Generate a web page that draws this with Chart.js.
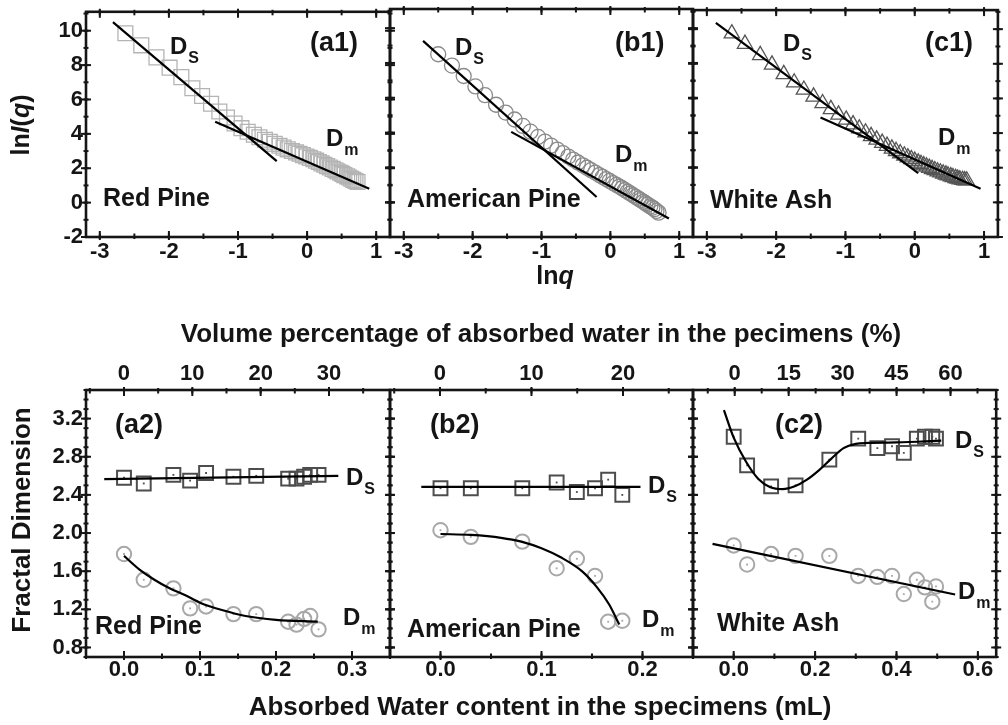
<!DOCTYPE html>
<html>
<head>
<meta charset="utf-8">
<script src="https://cdn.jsdelivr.net/npm/chart.js@4.4.1/dist/chart.umd.min.js"></script>
<style>
  html, body { margin: 0; padding: 0; background: #fff; }
  #wrap { position: relative; width: 1008px; height: 725px; }
  canvas { position: absolute; left: 0; top: 0; }
</style>
</head>
<body>
<div id="wrap">
  <canvas id="a1" width="1008" height="725"></canvas>
  <canvas id="b1" width="1008" height="725"></canvas>
  <canvas id="c1" width="1008" height="725"></canvas>
  <canvas id="a2" width="1008" height="725"></canvas>
  <canvas id="b2" width="1008" height="725"></canvas>
  <canvas id="c2" width="1008" height="725"></canvas>
</div>
<script>
// ---- top row: lnI(q) against lnq ----
const lnqRed = [-2.63,-2.40,-2.18,-1.99,-1.82,-1.66,-1.52,-1.39,-1.27,-1.16,-1.05,-0.95,-0.86,-0.77,-0.69,-0.61,-0.54,-0.47,-0.40,-0.34,-0.28,-0.22,-0.16,-0.11,-0.06,-0.01,0.04,0.09,0.13,0.17,0.21,0.25,0.29,0.33,0.37,0.41,0.44,0.48,0.51,0.54,0.58,0.61,0.64,0.67,0.70,0.73];
const lnIRed = [9.85,9.15,8.45,7.85,7.3,6.65,6.2,5.75,5.3,4.95,4.6,4.33,4.12,3.95,3.8,3.66,3.54,3.42,3.31,3.2,3.1,3.0,2.92,2.84,2.76,2.68,2.6,2.52,2.44,2.36,2.28,2.2,2.12,2.04,1.96,1.88,1.81,1.74,1.67,1.6,1.53,1.46,1.39,1.32,1.26,1.2];

const lnqAm = [-2.50,-2.30,-2.13,-1.96,-1.82,-1.66,-1.52,-1.39,-1.27,-1.16,-1.05,-0.95,-0.86,-0.77,-0.69,-0.61,-0.54,-0.47,-0.40,-0.34,-0.28,-0.22,-0.16,-0.11,-0.06,-0.01,0.04,0.09,0.13,0.17,0.21,0.25,0.29,0.33,0.37,0.41,0.44,0.48,0.51,0.54,0.58,0.61,0.64,0.67,0.70];
const lnIAm = [8.5,7.85,7.25,6.65,6.15,5.6,5.15,4.75,4.38,4.05,3.75,3.48,3.25,3.02,2.82,2.62,2.45,2.28,2.12,1.98,1.84,1.7,1.56,1.45,1.33,1.22,1.1,0.99,0.9,0.8,0.7,0.6,0.5,0.4,0.3,0.2,0.12,0.02,-0.06,-0.14,-0.24,-0.32,-0.4,-0.5,-0.6];

const lnqAsh = [-2.64,-2.45,-2.23,-2.06,-1.89,-1.74,-1.60,-1.46,-1.33,-1.21,-1.10,-0.99,-0.89,-0.80,-0.71,-0.63,-0.55,-0.47,-0.40,-0.33,-0.27,-0.21,-0.15,-0.10,-0.05,0.00,0.05,0.09,0.13,0.17,0.21,0.25,0.29,0.33,0.37,0.41,0.45,0.48,0.52,0.55,0.59,0.62,0.65,0.69,0.72,0.75];
const lnIAsh = [9.75,9.15,8.5,7.95,7.4,6.92,6.5,6.1,5.72,5.38,5.06,4.77,4.5,4.26,4.03,3.82,3.62,3.43,3.26,3.1,2.96,2.83,2.7,2.59,2.49,2.39,2.29,2.21,2.13,2.06,1.99,1.92,1.85,1.78,1.72,1.66,1.6,1.55,1.5,1.45,1.4,1.36,1.32,1.29,1.27,1.26];

// fitted straight lines (Ds steep, Dm shallow)
const dsLineRedX = [-2.81, -0.44], dsLineRedY = [10.5, 2.41];
const dmLineRedX = [-1.33, 0.90],  dmLineRedY = [4.71, 0.80];
const dsLineAmX  = [-2.72, -0.20], dsLineAmY  = [9.27, 0.30];
const dmLineAmX  = [-1.44, 0.85],  dmLineAmY  = [4.04, -0.94];
const dsLineAshX = [-2.87, 0.05],  dsLineAshY = [10.36, 1.69];
const dmLineAshX = [-1.36, 0.95],  dmLineAshY = [4.90, 0.79];

// ---- bottom row: fractal dimension against absorbed water (mL) ----
const waterRed = [0.000,0.026,0.065,0.087,0.108,0.144,0.174,0.216,0.227,0.237,0.245,0.256];
const dsRed    = [2.58,2.52,2.61,2.55,2.63,2.59,2.60,2.57,2.57,2.59,2.61,2.61];
const dmRed    = [1.78,1.51,1.42,1.21,1.23,1.15,1.15,1.07,1.04,1.10,1.13,0.99];

const waterAm = [0.000,0.030,0.081,0.115,0.135,0.153,0.166,0.180];
const dsAm    = [2.47,2.47,2.47,2.53,2.43,2.47,2.56,2.40];
const dmAm    = [2.03,1.96,1.91,1.63,1.73,1.55,1.07,1.08];

const waterAsh = [0.000,0.033,0.092,0.152,0.235,0.306,0.353,0.389,0.418,0.450,0.470,0.488,0.497];
const dsAsh    = [3.01,2.71,2.49,2.50,2.77,2.99,2.89,2.91,2.84,2.99,3.01,3.01,2.99];
const dmAsh    = [1.87,1.67,1.78,1.76,1.76,1.55,1.54,1.55,1.36,1.51,1.43,1.28,1.44];

// fitted curves
const dsFitRedX = [-0.026, 0.282], dsFitRedY = [2.565, 2.60];
const dmFitRedX = [0, 0.02, 0.04, 0.06, 0.08, 0.10, 0.13, 0.16, 0.20, 0.255];
const dmFitRedY = [1.76, 1.62, 1.51, 1.42, 1.35, 1.27, 1.19, 1.13, 1.09, 1.07];
const dsFitAmX = [-0.019, 0.198], dsFitAmY = [2.485, 2.485];
const dmFitAmX = [0, 0.03, 0.06, 0.08, 0.10, 0.12, 0.14, 0.155, 0.167, 0.177];
const dmFitAmY = [1.99, 1.98, 1.95, 1.91, 1.84, 1.74, 1.60, 1.43, 1.25, 1.04];
const dsFitAshX = [-0.024, 0, 0.03, 0.06, 0.09, 0.12, 0.15, 0.18, 0.21, 0.24, 0.27, 0.30, 0.33, 0.40, 0.51];
const dsFitAshY = [3.29, 3.0, 2.75, 2.57, 2.48, 2.46, 2.49, 2.56, 2.66, 2.78, 2.89, 2.935, 2.945, 2.95, 2.97];
const dmFitAshX = [-0.052, 0.544], dmFitAshY = [1.886, 1.355];

// tick labels
const lnqTicks = [-3, -2, -1, 0, 1];
const lnITicks = [-2, 0, 2, 4, 6, 8, 10];
const fdTicks = [0.8, 1.2, 1.6, 2.0, 2.4, 2.8, 3.2];
const mlTicksRed = [0.0, 0.1, 0.2, 0.3], pctTicksRed = [0, 10, 20, 30];
const mlTicksAm = [0.0, 0.1, 0.2], pctTicksAm = [0, 10, 20];
const mlTicksAsh = [0.0, 0.2, 0.4, 0.6], pctTicksAsh = [0, 15, 30, 45, 60];

const FONT = '"Liberation Sans", Arial, sans-serif';
const INK = '#151515';

function pts(xs, ys) { return xs.map((x, i) => ({x: x, y: ys[i]})); }

function marks(xs, ys, style, color, r, lw) {
  return { data: pts(xs, ys), pointStyle: style, pointRadius: r, pointBorderWidth: lw,
    pointBorderColor: color, pointBackgroundColor: 'rgba(0,0,0,0)', showLine: false, order: 2 };
}
function dots(xs, ys, color) {
  return { data: pts(xs, ys), pointStyle: 'rect', pointRadius: 1.3, pointBorderWidth: 0,
    pointBorderColor: color, pointBackgroundColor: color, showLine: false, order: 1 };
}
function fitLine(xs, ys) {
  return { data: pts(xs, ys), showLine: true, borderColor: '#000', borderWidth: 2.2, pointRadius: 0,
    fill: false, cubicInterpolationMode: xs.length > 2 ? 'monotone' : 'default', order: 0 };
}

function axis(pos, range, ticks, show, fmt, pad) {
  const vertical = pos === 'left' || pos === 'right';
  return {
    type: 'linear', position: pos, min: range[0], max: range[1],
    afterFit: s => { if (s.isHorizontal()) s.height = 40; else s.width = 40; },
    afterBuildTicks: s => { s.ticks = ticks.map(v => ({value: v})); },
    grid: { display: false, drawTicks: false },
    border: { display: false },
    ticks: { display: show, padding: pad, color: INK, autoSkip: false, maxRotation: 0, minRotation: 0,
      font: { family: FONT, size: 22, weight: 'bold', lineHeight: vertical ? 0.4 : 1.2 }, callback: fmt }
  };
}

function drawParts(ctx, parts, x, y, size, align) {
  ctx.textBaseline = 'middle';
  ctx.textAlign = 'left';
  const fontOf = p => (p[1] ? 'italic ' : '') + 'bold ' + size + 'px ' + FONT;
  let w = 0;
  parts.forEach(p => { ctx.font = fontOf(p); w += ctx.measureText(p[0]).width; });
  let cx = align === 'center' ? x - w / 2 : x;
  parts.forEach(p => { ctx.font = fontOf(p); ctx.fillText(p[0], cx, y); cx += ctx.measureText(p[0]).width; });
}

function makeFrame(ticksInfo) {
  return {
    id: 'frame',
    afterDatasetsDraw(chart) {
      const ctx = chart.ctx, a = chart.chartArea;
      ctx.save();
      ctx.strokeStyle = INK;
      ctx.lineWidth = 2.6;
      ctx.strokeRect(a.left, a.top, a.right - a.left, a.bottom - a.top);
      ctx.lineWidth = 2;
      Object.keys(ticksInfo).forEach(id => {
        const s = chart.scales[id], info = ticksInfo[id];
        const list = [];
        const n0 = Math.ceil(s.min / info.minor - 1e-6), n1 = Math.floor(s.max / info.minor + 1e-6);
        for (let n = n0; n <= n1; n++) list.push([n * info.minor, 3.5, 2]);
        info.major.forEach(v => list.push([v, 6, 3]));
        list.forEach(([v, inn, out]) => {
          const p = s.getPixelForValue(v);
          ctx.beginPath();
          if (s.position === 'bottom') { ctx.moveTo(p, a.bottom - inn); ctx.lineTo(p, a.bottom + out); }
          else if (s.position === 'top') { ctx.moveTo(p, a.top + inn); ctx.lineTo(p, a.top - out); }
          else if (s.position === 'left') { ctx.moveTo(a.left + inn - 1, p); ctx.lineTo(a.left - inn + 1, p); }
          else { ctx.moveTo(a.right - inn + 1, p); ctx.lineTo(a.right + inn - 1, p); }
          ctx.stroke();
        });
      });
      ctx.restore();
    }
  };
}

function makeNotes(notes) {
  return {
    id: 'notes',
    afterDraw(chart) {
      const ctx = chart.ctx;
      ctx.save();
      ctx.fillStyle = INK;
      notes.forEach(n => {
        drawParts(ctx, [[n.t, false]], n.x, n.y, n.size, 'left');
        if (n.sub) {
          ctx.font = 'bold ' + n.size + 'px ' + FONT;
          const w = ctx.measureText(n.t).width;
          drawParts(ctx, [[n.sub, false]], n.x + w + 1, n.y + n.size * 0.47, Math.round(n.size * 0.66), 'left');
        }
      });
      ctx.restore();
    }
  };
}

const titles = {
  id: 'titles',
  afterDraw(chart) {
    const ctx = chart.ctx;
    ctx.save();
    ctx.fillStyle = INK;
    drawParts(ctx, [['ln', false], ['q', true]], 555, 277, 25, 'center');
    drawParts(ctx, [['Volume percentage of absorbed water in the pecimens (%)', false]], 541, 335, 26, 'center');
    drawParts(ctx, [['Absorbed Water content in the specimens (mL)', false]], 540, 708, 26, 'center');
    ctx.translate(22, 125); ctx.rotate(-Math.PI / 2);
    drawParts(ctx, [['ln', false], ['I', true], ['(', false], ['q', true], [')', false]], 0, 0, 25, 'center');
    ctx.rotate(Math.PI / 2); ctx.translate(-22, -125);
    ctx.translate(23, 520); ctx.rotate(-Math.PI / 2);
    drawParts(ctx, [['Fractal Dimension', false]], 0, 0, 26, 'center');
    ctx.restore();
  }
};

const intFmt = v => String(v);
const oneDec = v => v.toFixed(1);

function panel(id, c) {
  const W = 1008, H = 725, G = 40;
  const [l, t, r, b] = c.box;
  const scales = {
    x: axis('bottom', c.x, c.xTicks, true, c.xFmt, c.xPad),
    x2: axis('top', c.top || c.x, c.topTicks || c.xTicks, !!c.topTicks, intFmt, 3),
    y: axis('left', c.y, c.yTicks, c.yLabels, c.yFmt, 3),
    y2: axis('right', c.y, c.yTicks, false, c.yFmt, 3)
  };
  const info = {
    x: {major: c.xTicks, minor: c.xMinor},
    x2: {major: c.topTicks || c.xTicks, minor: c.topMinor || c.xMinor},
    y: {major: c.yTicks, minor: c.yMinor},
    y2: {major: c.yTicks, minor: c.yMinor}
  };
  const plugins = [makeFrame(info), makeNotes(c.notes)];
  if (c.titles) plugins.push(titles);
  new Chart(document.getElementById(id), {
    type: 'scatter',
    data: { datasets: c.datasets },
    options: {
      responsive: false, animation: false, events: [],
      layout: { padding: { left: l - G, top: t - G, right: W - r - G, bottom: H - b - G } },
      plugins: { legend: { display: false }, tooltip: { enabled: false } },
      scales: scales
    },
    plugins: plugins
  });
}

const lnqRange = [-3.2, 1.2], lnIRange = [-2, 11.1], fdRange = [0.7, 3.5];
const SQ_TOP = '#b4b4b4', CI_TOP = '#8a8a8a', TR_TOP = '#555555';
const SQ_BOT = '#4d4d4d', CI_BOT = '#a8a8a8';

panel('a1', {
  box: [86, 9, 390, 237], x: lnqRange, y: lnIRange, titles: true,
  xTicks: lnqTicks, xMinor: 0.5, xFmt: intFmt, xPad: 2,
  yTicks: lnITicks, yMinor: 1, yFmt: intFmt, yLabels: true,
  datasets: [fitLine(dsLineRedX, dsLineRedY), fitLine(dmLineRedX, dmLineRedY),
    marks(lnqRed, lnIRed, 'rect', SQ_TOP, 10.5, 1.3)],
  notes: [{t: '(a1)', x: 310, y: 44, size: 27}, {t: 'D', sub: 'S', x: 170, y: 47, size: 24},
    {t: 'D', sub: 'm', x: 326, y: 139, size: 24}, {t: 'Red Pine', x: 103, y: 199, size: 25}]
});
panel('b1', {
  box: [390, 9, 693, 237], x: lnqRange, y: lnIRange,
  xTicks: lnqTicks, xMinor: 0.5, xFmt: intFmt, xPad: 2,
  yTicks: lnITicks, yMinor: 1, yFmt: intFmt, yLabels: false,
  datasets: [fitLine(dsLineAmX, dsLineAmY), fitLine(dmLineAmX, dmLineAmY),
    marks(lnqAm, lnIAm, 'circle', CI_TOP, 7.5, 1.3)],
  notes: [{t: '(b1)', x: 615, y: 44, size: 27}, {t: 'D', sub: 'S', x: 455, y: 48, size: 24},
    {t: 'D', sub: 'm', x: 615, y: 155, size: 24}, {t: 'American Pine', x: 407, y: 200, size: 25}]
});
panel('c1', {
  box: [693, 9, 998, 237], x: lnqRange, y: lnIRange,
  xTicks: lnqTicks, xMinor: 0.5, xFmt: intFmt, xPad: 2,
  yTicks: lnITicks, yMinor: 1, yFmt: intFmt, yLabels: false,
  datasets: [fitLine(dsLineAshX, dsLineAshY), fitLine(dmLineAshX, dmLineAshY),
    marks(lnqAsh, lnIAsh, 'triangle', TR_TOP, 8.8, 1.3)],
  notes: [{t: '(c1)', x: 925, y: 44, size: 27}, {t: 'D', sub: 'S', x: 783, y: 44, size: 24},
    {t: 'D', sub: 'm', x: 938, y: 138, size: 24}, {t: 'White Ash', x: 710, y: 201, size: 25}]
});
panel('a2', {
  box: [86, 390, 390, 657], x: [-0.05, 0.35], y: fdRange,
  top: [-5.56, 38.93], topTicks: pctTicksRed, topMinor: 5,
  xTicks: mlTicksRed, xMinor: 0.05, xFmt: oneDec, xPad: 0,
  yTicks: fdTicks, yMinor: 0.1, yFmt: oneDec, yLabels: true,
  datasets: [fitLine(dsFitRedX, dsFitRedY), fitLine(dmFitRedX, dmFitRedY),
    marks(waterRed, dsRed, 'rect', SQ_BOT, 9.8, 2), dots(waterRed, dsRed, SQ_BOT),
    marks(waterRed, dmRed, 'circle', CI_BOT, 7.2, 2), dots(waterRed, dmRed, CI_BOT)],
  notes: [{t: '(a2)', x: 115, y: 426, size: 27}, {t: 'D', sub: 'S', x: 346, y: 478, size: 24},
    {t: 'D', sub: 'm', x: 343, y: 618, size: 24}, {t: 'Red Pine', x: 95, y: 627, size: 25}]
});
panel('b2', {
  box: [390, 390, 693, 657], x: [-0.05, 0.25], y: fdRange,
  top: [-5.46, 27.65], topTicks: pctTicksAm, topMinor: 5,
  xTicks: mlTicksAm, xMinor: 0.05, xFmt: oneDec, xPad: 0,
  yTicks: fdTicks, yMinor: 0.1, yFmt: oneDec, yLabels: false,
  datasets: [fitLine(dsFitAmX, dsFitAmY), fitLine(dmFitAmX, dmFitAmY),
    marks(waterAm, dsAm, 'rect', SQ_BOT, 9.8, 2), dots(waterAm, dsAm, SQ_BOT),
    marks(waterAm, dmAm, 'circle', CI_BOT, 7.2, 2), dots(waterAm, dmAm, CI_BOT)],
  notes: [{t: '(b2)', x: 430, y: 426, size: 27}, {t: 'D', sub: 'S', x: 648, y: 486, size: 24},
    {t: 'D', sub: 'm', x: 642, y: 620, size: 24}, {t: 'American Pine', x: 407, y: 630, size: 25}]
});
panel('c2', {
  box: [693, 390, 998, 657], x: [-0.1, 0.645], y: fdRange,
  top: [-11.6, 72.7], topTicks: pctTicksAsh, topMinor: 7.5,
  xTicks: mlTicksAsh, xMinor: 0.1, xFmt: oneDec, xPad: 0,
  yTicks: fdTicks, yMinor: 0.1, yFmt: oneDec, yLabels: false,
  datasets: [fitLine(dsFitAshX, dsFitAshY), fitLine(dmFitAshX, dmFitAshY),
    marks(waterAsh, dsAsh, 'rect', SQ_BOT, 9.8, 2), dots(waterAsh, dsAsh, SQ_BOT),
    marks(waterAsh, dmAsh, 'circle', CI_BOT, 7.2, 2), dots(waterAsh, dmAsh, CI_BOT)],
  notes: [{t: '(c2)', x: 775, y: 426, size: 27}, {t: 'D', sub: 'S', x: 955, y: 441, size: 24},
    {t: 'D', sub: 'm', x: 958, y: 592, size: 24}, {t: 'White Ash', x: 717, y: 624, size: 25}]
});
</script>
</body>
</html>
